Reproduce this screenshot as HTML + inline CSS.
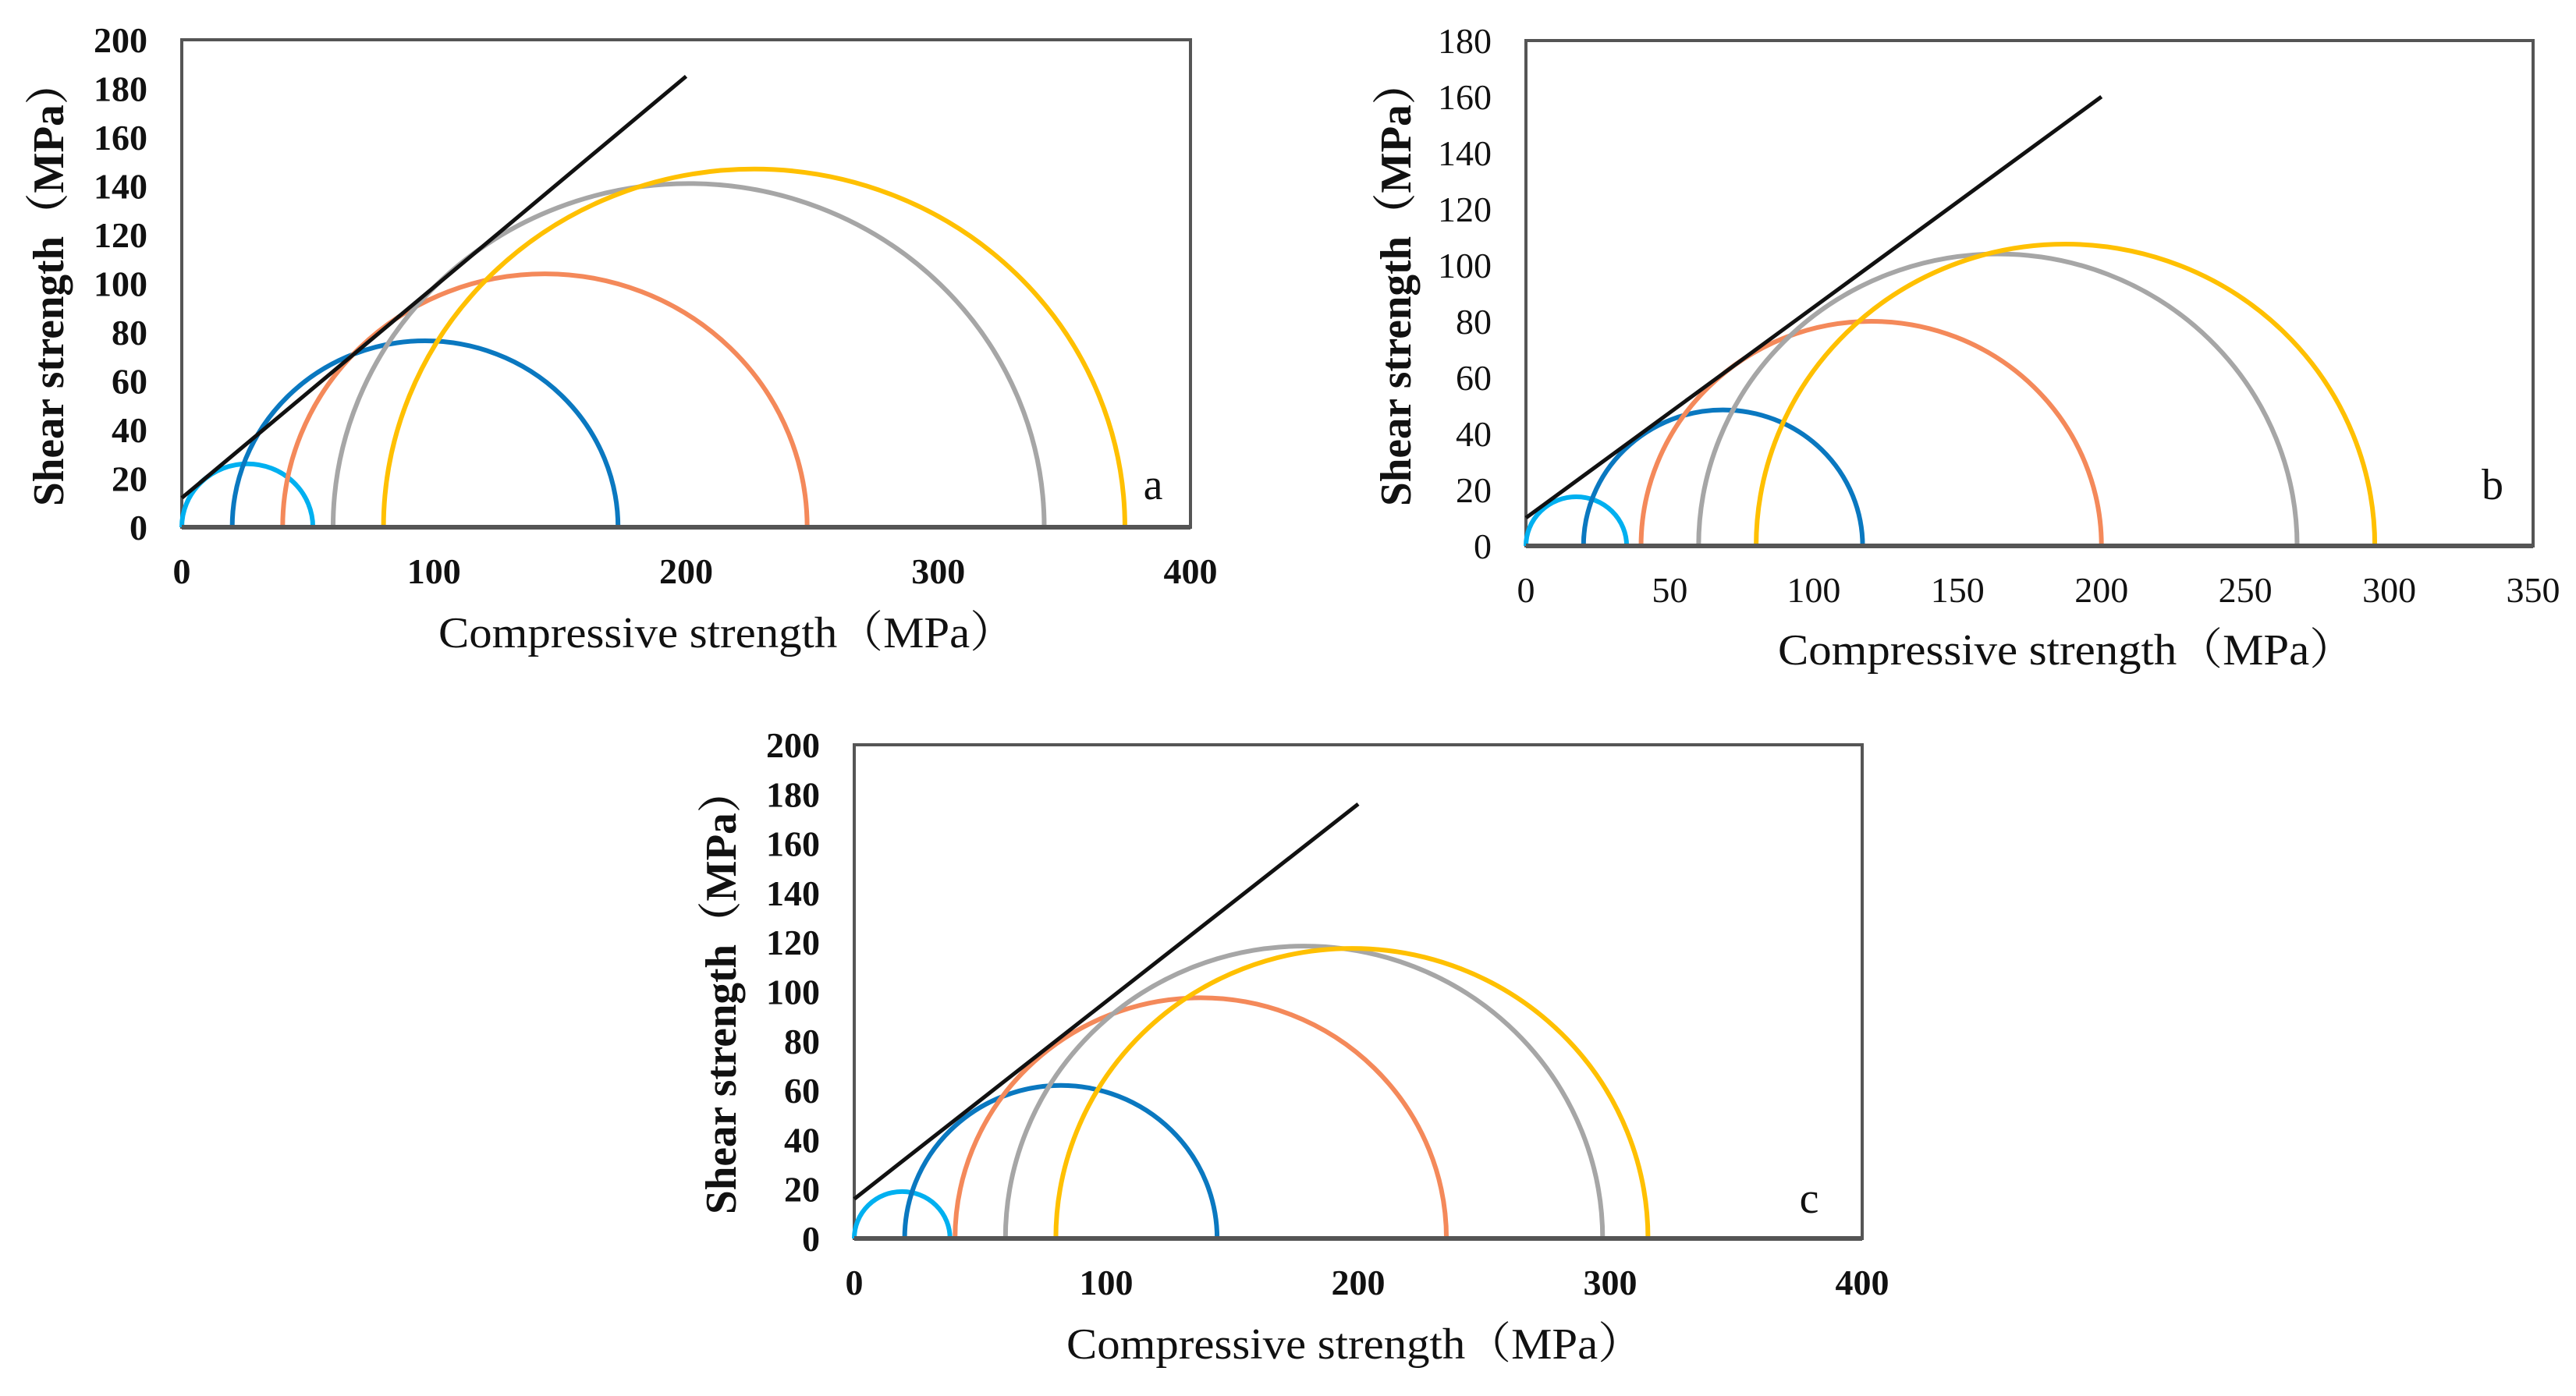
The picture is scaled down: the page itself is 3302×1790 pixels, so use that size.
<!DOCTYPE html>
<html><head><meta charset="utf-8">
<style>
html,body{margin:0;padding:0;background:#fff;}
svg{display:block;}
text{font-family:"Liberation Serif","Noto Serif CJK SC",serif;fill:#111;}
</style></head>
<body>
<svg id="fig" width="3302" height="1790" viewBox="0 0 3302 1790" xmlns="http://www.w3.org/2000/svg"></svg>
<script>
// ---- data ----
const panelIds = ["a","b","c"];
const xMaxA = 400, yMaxA = 200;
const xMaxB = 350, yMaxB = 180;
const xMaxC = 400, yMaxC = 200;
const xTicksA = [0,100,200,300,400];
const yTicksA = [0,20,40,60,80,100,120,140,160,180,200];
const xTicksB = [0,50,100,150,200,250,300,350];
const yTicksB = [0,20,40,60,80,100,120,140,160,180];
const xTicksC = [0,100,200,300,400];
const yTicksC = [0,20,40,60,80,100,120,140,160,180,200];
const seriesNames = ["cyan","blue","orange","gray","yellow"];
const seriesColors = ["#00b0f0","#0a78c0","#f4895a","#a6a6a6","#ffc000"];
// circles: minor principal stress (sigma3) and major (sigma1)
const sigma3A = [0,20,40,60,80];
const sigma1A = [52,173,248,342,374];
const sigma3B = [0,20,40,60,80];
const sigma1B = [35,117,200,268,295];
const sigma3C = [0,20,40,60,80];
const sigma1C = [38,144,235,297,315];
// envelope lines: [x0,y0,x1,y1]
const envA = [0,12,200,185];
const envB = [0,10,200,160];
const envC = [0,16,200,176];

const NS="http://www.w3.org/2000/svg";
const svg=document.getElementById('fig');
function mk(tag,attrs,parent){const e=document.createElementNS(NS,tag);for(const k in attrs)e.setAttribute(k,attrs[k]);(parent||svg).appendChild(e);return e;}

const layouts={
 a:{x0:233,x1:1526,y0:676,y1:51,xMax:xMaxA,yMax:yMaxA,xt:xTicksA,yt:yTicksA,s3:sigma3A,s1:sigma1A,env:envA,bold:true,lab:[1478,640],tx:[932,830],ty:[63,364]},
 b:{x0:1956,x1:3247,y0:700,y1:52,xMax:xMaxB,yMax:yMaxB,xt:xTicksB,yt:yTicksB,s3:sigma3B,s1:sigma1B,env:envB,bold:false,lab:[3195,640],tx:[2649,852],ty:[1790,364]},
 c:{x0:1095,x1:2387,y0:1588,y1:955,xMax:xMaxC,yMax:yMaxC,xt:xTicksC,yt:yTicksC,s3:sigma3C,s1:sigma1C,env:envC,bold:true,lab:[2319,1555],tx:[1737,1742],ty:[925,1272]}
};

panelIds.forEach(id=>{
 const L=layouts[id];
 const g=mk('g',{});
 
 
 const sx=v=>L.x0+(v/L.xMax)*(L.x1-L.x0);
 const sy=v=>L.y0-(v/L.yMax)*(L.y0-L.y1);
 const ppx=(L.x1-L.x0)/L.xMax, ppy=(L.y0-L.y1)/L.yMax;
 const frame=mk('rect',{x:L.x0,y:L.y1,width:L.x1-L.x0,height:L.y0-L.y1,fill:'none',stroke:'#555',"stroke-width":4},g);
 
 
 L.s3.forEach((s3,i)=>{
  const r=(L.s1[i]-s3)/2;
  const x1=sx(s3), x2=sx(L.s1[i]), cy=sy(0);
  const p=mk('path',{d:`M${x1},${cy} A${r*ppx},${r*ppy} 0 0 1 ${x2},${cy}`,fill:'none',stroke:seriesColors[i],"stroke-width":6},g);
  
  
 });
 const ln=mk('line',{x1:sx(L.env[0]),y1:sy(L.env[1]),x2:sx(L.env[2]),y2:sy(L.env[3]),stroke:'#111',"stroke-width":5},g);
 
 
 const ax=mk('line',{x1:L.x0,y1:L.y0,x2:L.x1,y2:L.y0,stroke:'#555',"stroke-width":6},g);
 
 
 const fw=L.bold?'bold':'normal';
 L.xt.forEach(v=>{
  const t=mk('text',{x:sx(v),y:L.y0+72,"text-anchor":'middle',"font-size":46,"font-weight":fw},g);
  t.textContent=v;
  
  
 });
 L.yt.forEach(v=>{
  const t=mk('text',{x:L.x0-44,y:sy(v)+16,"text-anchor":'end',"font-size":46,"font-weight":fw},g);
  t.textContent=v;
  
  
 });
 const xt=mk('text',{x:L.tx[0],y:L.tx[1],"text-anchor":'middle',"font-size":56,textLength:740,lengthAdjust:'spacingAndGlyphs'},g);
 xt.textContent='Compressive strength（MPa）';
 
 
 const yt=mk('text',{x:0,y:0,"text-anchor":'middle',"font-size":56,"font-weight":'bold',textLength:570,lengthAdjust:'spacingAndGlyphs',transform:`translate(${L.ty[0]+18},${L.ty[1]}) rotate(-90)`},g);
 yt.textContent='Shear strength（MPa）';
 
 
 const pl=mk('text',{x:L.lab[0],y:L.lab[1],"text-anchor":'middle',"font-size":56},g);
 pl.textContent=id;
 
 
});
</script>
</body></html>
